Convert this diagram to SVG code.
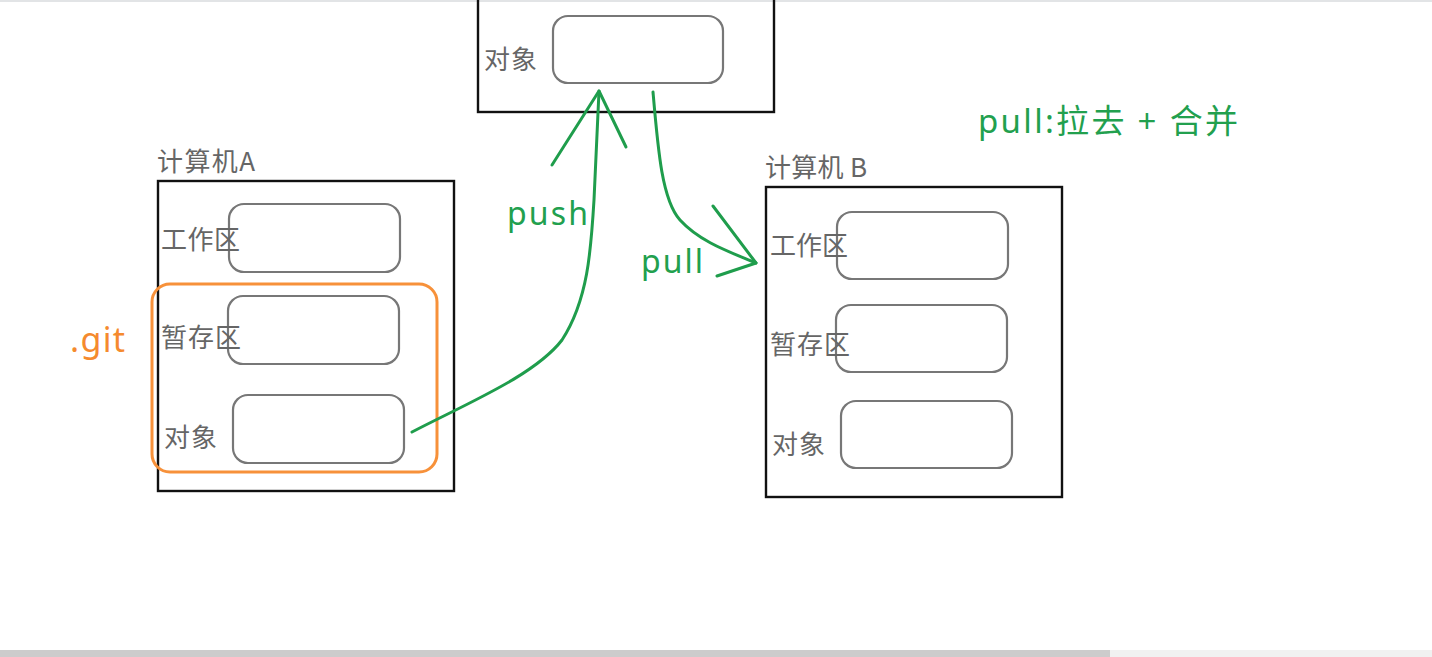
<svg xmlns="http://www.w3.org/2000/svg" width="1432" height="657" viewBox="0 0 1432 657">
<style>
.outer{fill:none;stroke:#111;stroke-width:2.4}
.inner{fill:#fff;stroke:#777;stroke-width:2.2}
.lbl{font-family:"Noto Sans CJK SC","Noto Sans",sans-serif;font-size:26px;fill:#666}
.grn{fill:none;stroke:#1f9d4c;stroke-width:3;stroke-linecap:round;stroke-linejoin:round}
.gtxt{font-family:"Noto Sans","Noto Sans CJK SC",sans-serif;fill:#22a04e}
</style>
<rect width="1432" height="657" fill="#fff"/>
<rect x="0" y="0" width="1432" height="2" fill="#e2e4e6"/>
<g id="remote">
<rect class="outer" x="478" y="-10" width="296" height="122"/>
<rect class="inner" x="553" y="16" width="170" height="67" rx="15"/>
<text class="lbl" x="484" y="69" textLength="53">对象</text>
</g>
<g id="computerA">
<text class="lbl" x="157" y="171" textLength="98">计算机A</text>
<rect class="outer" x="158" y="181" width="296" height="310"/>
<rect class="inner" x="229" y="204" width="171" height="68" rx="15"/>
<rect class="inner" x="228" y="296" width="171" height="68" rx="15"/>
<rect class="inner" x="233" y="395" width="171" height="68" rx="15"/>
<text class="lbl" x="161" y="249" textLength="79">工作区</text>
<text class="lbl" x="161" y="347" textLength="80">暂存区</text>
<text class="lbl" x="164" y="447" textLength="53">对象</text>
</g>
<g id="git">
<rect x="152" y="284" width="285" height="188" rx="18" fill="none" stroke="#f7913a" stroke-width="3"/>
<text x="70" y="352" font-family="'Noto Sans',sans-serif" font-size="34" fill="#f58a2e" textLength="55">.git</text>
</g>
<g id="computerB">
<text class="lbl" x="765" y="177" textLength="102">计算机 B</text>
<rect class="outer" x="766" y="187" width="296" height="310"/>
<rect class="inner" x="837" y="212" width="171" height="67" rx="15"/>
<rect class="inner" x="836" y="305" width="171" height="67" rx="15"/>
<rect class="inner" x="841" y="401" width="171" height="67" rx="15"/>
<text class="lbl" x="770" y="255" textLength="78">工作区</text>
<text class="lbl" x="770" y="354" textLength="80">暂存区</text>
<text class="lbl" x="772" y="454" textLength="53">对象</text>
</g>
<g id="connectors">
<path class="grn" d="M412 432 C470 402 535 375 562 340 C588 300 591 250 594 200 L599 91"/>
<polyline class="grn" points="552,165 599,91 626,147"/>
<path class="grn" d="M653 92 C658 150 662 200 680 220 C700 242 730 252 756 263"/>
<polyline class="grn" points="713,206 756,263 717,276"/>
</g>
<g id="labels">
<text class="gtxt" x="507" y="225" font-size="32" textLength="81">push</text>
<text class="gtxt" x="641" y="273" font-size="32" textLength="62">pull</text>
<text class="gtxt" x="978" y="133" font-size="33" textLength="260">pull:拉去 + 合并</text>
</g>
<rect x="0" y="650" width="1432" height="7" fill="#f1f1f1"/>
<rect x="0" y="650" width="1110" height="7" fill="#cccccc"/>
</svg>
